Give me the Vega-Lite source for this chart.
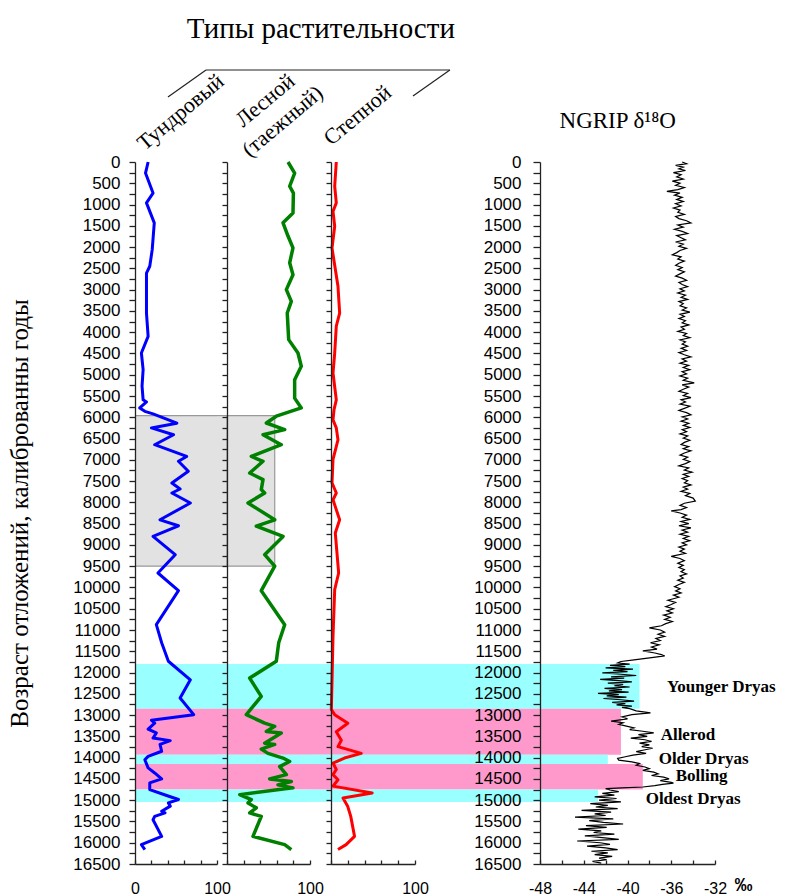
{
"$schema": "https://vega.github.io/schema/vega-lite/v6.json",
"background": "white",
"autosize": {"type": "pad"},
"padding": {"left": 7, "top": 14, "right": 0, "bottom": 0},
"bounds": "flush",
"spacing": 0,
"config": {
  "view": {"stroke": null},
  "axis": {"grid": false, "domainColor": "#222", "tickColor": "#222", "labelColor": "#000", "labelFont": "Liberation Sans", "labelOverlap": false, "labelFlush": false, "labelBound": false, "domainWidth": 1.3, "tickWidth": 1.3, "titleColor": "#000"},
  "text": {"font": "Liberation Serif", "color": "#000"}
},
"datasets": {
  "bands": [
    {"from": 11800, "to": 12850, "kind": "cold", "ng": -38.9},
    {"from": 12850, "to": 13930, "kind": "warm", "ng": -40.6},
    {"from": 13930, "to": 14150, "kind": "cold", "ng": -41.8},
    {"from": 14150, "to": 14750, "kind": "warm", "ng": -38.6},
    {"from": 14750, "to": 15040, "kind": "cold", "ng": -42.7}
  ],
  "zone": [{"from": 5960, "to": 9500}],
  "tundra": [
    {"age":0,"v":16},{"age":260,"v":12.8},{"age":730,"v":22},{"age":960,"v":14},{"age":1430,"v":23.5},{"age":2060,"v":21},{"age":2450,"v":18},{"age":2610,"v":14},{"age":3550,"v":14},{"age":4100,"v":16},{"age":4490,"v":7.8},{"age":4880,"v":9.9},{"age":5270,"v":8.6},{"age":5590,"v":9.9},{"age":5640,"v":14},{"age":5780,"v":5.8},{"age":5860,"v":12},{"age":5920,"v":22},{"age":6140,"v":51},{"age":6250,"v":20},{"age":6410,"v":47},{"age":6645,"v":24},{"age":6920,"v":63},{"age":7035,"v":53},{"age":7270,"v":65},{"age":7545,"v":45},{"age":7686,"v":55},{"age":7780,"v":45},{"age":8015,"v":67.5},{"age":8410,"v":30.5},{"age":8550,"v":53},{"age":8800,"v":22},{"age":9230,"v":49},{"age":9660,"v":28},{"age":10075,"v":53},{"age":10875,"v":26},{"age":11300,"v":32.5},{"age":11735,"v":40.7},{"age":12170,"v":67.5},{"age":12600,"v":55},{"age":12990,"v":71.6},{"age":13120,"v":20},{"age":13190,"v":24},{"age":13330,"v":16},{"age":13420,"v":26},{"age":13540,"v":22},{"age":13600,"v":43},{"age":13690,"v":30.5},{"age":13850,"v":32.5},{"age":13970,"v":16},{"age":14050,"v":12},{"age":14240,"v":16},{"age":14360,"v":24},{"age":14500,"v":32.5},{"age":14595,"v":18},{"age":14750,"v":18},{"age":14890,"v":38.6},{"age":14985,"v":53},{"age":15065,"v":40.7},{"age":15140,"v":43},{"age":15260,"v":32.5},{"age":15300,"v":36.6},{"age":15380,"v":24},{"age":15460,"v":22},{"age":15850,"v":32.5},{"age":16045,"v":7.8},{"age":16160,"v":12}
  ],
  "forest": [
    {"age":0,"v":73.5},{"age":260,"v":81.5},{"age":570,"v":75.5},{"age":730,"v":80},{"age":1200,"v":79.5},{"age":1430,"v":67.5},{"age":1740,"v":73.5},{"age":2020,"v":79.5},{"age":2370,"v":75.5},{"age":2650,"v":79.5},{"age":3000,"v":71.5},{"age":3275,"v":77.5},{"age":3550,"v":72.6},{"age":4175,"v":74.3},{"age":4490,"v":85.5},{"age":4800,"v":89.5},{"age":5120,"v":81.5},{"age":5550,"v":81.5},{"age":5780,"v":89.5},{"age":5975,"v":59.4},{"age":6135,"v":47.4},{"age":6290,"v":69.5},{"age":6410,"v":43.4},{"age":6645,"v":65.4},{"age":6920,"v":29.3},{"age":7035,"v":43.4},{"age":7310,"v":27.3},{"age":7465,"v":43.4},{"age":7700,"v":41.3},{"age":7780,"v":45.4},{"age":8015,"v":25.3},{"age":8410,"v":57.5},{"age":8560,"v":35.3},{"age":8800,"v":67.5},{"age":9230,"v":45.4},{"age":9500,"v":57.5},{"age":10075,"v":41.3},{"age":10875,"v":69.5},{"age":11300,"v":62.3},{"age":11735,"v":59.4},{"age":12130,"v":27.3},{"age":12560,"v":41.3},{"age":12990,"v":23.3},{"age":13190,"v":45.4},{"age":13265,"v":57.5},{"age":13385,"v":47.4},{"age":13420,"v":65.4},{"age":13660,"v":45.4},{"age":13690,"v":57.5},{"age":13800,"v":41.3},{"age":13900,"v":49.4},{"age":14010,"v":67.5},{"age":14090,"v":75.5},{"age":14210,"v":63.5},{"age":14400,"v":71.5},{"age":14500,"v":51.4},{"age":14560,"v":77.5},{"age":14640,"v":61.4},{"age":14710,"v":79.5},{"age":14870,"v":15.3},{"age":14985,"v":29.3},{"age":15065,"v":25.3},{"age":15180,"v":35.3},{"age":15300,"v":27.3},{"age":15380,"v":41.3},{"age":15850,"v":31.3},{"age":16045,"v":69.5},{"age":16160,"v":77.5}
  ],
  "steppe": [
    {"age":0,"v":6.3},{"age":570,"v":4.4},{"age":960,"v":6.3},{"age":1160,"v":2.4},{"age":1510,"v":4.4},{"age":2020,"v":1.2},{"age":2920,"v":8.3},{"age":3550,"v":10.3},{"age":3860,"v":6.3},{"age":4490,"v":4.4},{"age":4960,"v":2.4},{"age":5590,"v":6.3},{"age":5820,"v":3.6},{"age":6060,"v":2.4},{"age":6250,"v":6.3},{"age":6530,"v":8.3},{"age":6990,"v":2.4},{"age":7540,"v":1.2},{"age":7780,"v":6.3},{"age":7940,"v":2.4},{"age":8410,"v":10.3},{"age":8720,"v":5.1},{"age":9660,"v":9.1},{"age":10050,"v":4.4},{"age":11150,"v":2.4},{"age":12870,"v":0.4},{"age":12990,"v":4.4},{"age":13190,"v":20},{"age":13390,"v":6.3},{"age":13590,"v":12.3},{"age":13740,"v":8.3},{"age":13900,"v":36},{"age":14010,"v":16},{"age":14130,"v":2.4},{"age":14280,"v":6.3},{"age":14400,"v":2.4},{"age":14520,"v":8.3},{"age":14670,"v":2.4},{"age":14830,"v":49},{"age":14950,"v":14.3},{"age":15150,"v":20},{"age":15380,"v":23.5},{"age":15850,"v":28},{"age":16045,"v":18},{"age":16160,"v":8.3}
  ],
  "ngrip": [
    {"a":0,"d":-35.0},{"a":40,"d":-34.6},{"a":80,"d":-35.6},{"a":120,"d":-34.9},{"a":160,"d":-35.3},{"a":200,"d":-34.7},{"a":250,"d":-35.8},{"a":300,"d":-35.1},{"a":350,"d":-35.5},{"a":400,"d":-34.9},{"a":450,"d":-35.9},{"a":500,"d":-35.2},{"a":550,"d":-35.6},{"a":600,"d":-34.8},{"a":650,"d":-35.4},{"a":690,"d":-36.4},{"a":730,"d":-35.2},{"a":780,"d":-35.7},{"a":830,"d":-35.0},{"a":880,"d":-35.5},{"a":930,"d":-34.9},{"a":980,"d":-35.6},{"a":1030,"d":-35.1},{"a":1080,"d":-35.8},{"a":1130,"d":-35.2},{"a":1180,"d":-35.4},{"a":1230,"d":-34.8},{"a":1280,"d":-35.6},{"a":1330,"d":-35.3},{"a":1380,"d":-34.6},{"a":1430,"d":-34.2},{"a":1480,"d":-35.4},{"a":1530,"d":-34.9},{"a":1580,"d":-35.7},{"a":1630,"d":-35.0},{"a":1680,"d":-34.5},{"a":1730,"d":-35.5},{"a":1780,"d":-35.1},{"a":1830,"d":-34.7},{"a":1880,"d":-35.6},{"a":1930,"d":-34.9},{"a":1980,"d":-35.3},{"a":2030,"d":-34.6},{"a":2080,"d":-35.2},{"a":2130,"d":-35.5},{"a":2180,"d":-35.9},{"a":2230,"d":-35.1},{"a":2280,"d":-35.4},{"a":2330,"d":-34.8},{"a":2380,"d":-35.3},{"a":2430,"d":-35.6},{"a":2480,"d":-35.0},{"a":2530,"d":-35.4},{"a":2580,"d":-34.8},{"a":2630,"d":-35.2},{"a":2680,"d":-35.6},{"a":2730,"d":-35.0},{"a":2780,"d":-34.6},{"a":2830,"d":-35.3},{"a":2880,"d":-35.0},{"a":2930,"d":-34.5},{"a":2980,"d":-35.2},{"a":3030,"d":-34.8},{"a":3080,"d":-35.4},{"a":3130,"d":-34.7},{"a":3180,"d":-35.1},{"a":3230,"d":-34.5},{"a":3280,"d":-35.3},{"a":3330,"d":-34.9},{"a":3380,"d":-35.2},{"a":3430,"d":-34.6},{"a":3480,"d":-35.0},{"a":3530,"d":-34.3},{"a":3580,"d":-35.2},{"a":3630,"d":-34.8},{"a":3680,"d":-35.3},{"a":3730,"d":-34.7},{"a":3780,"d":-35.0},{"a":3830,"d":-34.4},{"a":3880,"d":-35.1},{"a":3930,"d":-34.8},{"a":3980,"d":-35.4},{"a":4030,"d":-34.6},{"a":4080,"d":-34.9},{"a":4130,"d":-34.3},{"a":4180,"d":-35.2},{"a":4230,"d":-34.7},{"a":4280,"d":-35.0},{"a":4330,"d":-34.5},{"a":4380,"d":-35.1},{"a":4430,"d":-34.6},{"a":4480,"d":-35.3},{"a":4530,"d":-34.8},{"a":4580,"d":-34.2},{"a":4630,"d":-35.0},{"a":4680,"d":-34.6},{"a":4730,"d":-35.2},{"a":4780,"d":-34.4},{"a":4830,"d":-34.9},{"a":4880,"d":-34.3},{"a":4930,"d":-35.0},{"a":4980,"d":-34.6},{"a":5030,"d":-35.2},{"a":5080,"d":-34.5},{"a":5130,"d":-34.9},{"a":5190,"d":-33.9},{"a":5240,"d":-35.0},{"a":5290,"d":-34.4},{"a":5340,"d":-34.9},{"a":5390,"d":-35.3},{"a":5440,"d":-34.5},{"a":5490,"d":-34.9},{"a":5540,"d":-34.2},{"a":5590,"d":-35.1},{"a":5640,"d":-34.7},{"a":5690,"d":-35.2},{"a":5740,"d":-34.3},{"a":5790,"d":-34.8},{"a":5840,"d":-35.3},{"a":5890,"d":-34.6},{"a":5940,"d":-34.2},{"a":5990,"d":-35.0},{"a":6040,"d":-34.5},{"a":6090,"d":-35.1},{"a":6140,"d":-34.4},{"a":6190,"d":-34.9},{"a":6240,"d":-34.3},{"a":6290,"d":-35.0},{"a":6340,"d":-34.6},{"a":6390,"d":-35.2},{"a":6440,"d":-34.5},{"a":6490,"d":-34.9},{"a":6540,"d":-34.3},{"a":6590,"d":-34.8},{"a":6640,"d":-35.1},{"a":6690,"d":-34.4},{"a":6740,"d":-34.9},{"a":6790,"d":-34.2},{"a":6840,"d":-34.8},{"a":6890,"d":-35.2},{"a":6940,"d":-34.5},{"a":6990,"d":-34.9},{"a":7040,"d":-34.3},{"a":7090,"d":-34.7},{"a":7140,"d":-35.3},{"a":7190,"d":-34.4},{"a":7240,"d":-34.8},{"a":7290,"d":-34.1},{"a":7340,"d":-34.9},{"a":7390,"d":-34.4},{"a":7440,"d":-35.0},{"a":7490,"d":-34.5},{"a":7540,"d":-34.8},{"a":7590,"d":-34.2},{"a":7640,"d":-34.9},{"a":7690,"d":-34.5},{"a":7740,"d":-35.1},{"a":7790,"d":-34.3},{"a":7840,"d":-34.7},{"a":7900,"d":-34.0},{"a":7970,"d":-33.8},{"a":8020,"d":-34.8},{"a":8070,"d":-35.2},{"a":8120,"d":-34.6},{"a":8170,"d":-35.1},{"a":8200,"d":-36.0},{"a":8250,"d":-35.2},{"a":8300,"d":-34.6},{"a":8350,"d":-35.0},{"a":8400,"d":-34.3},{"a":8450,"d":-35.1},{"a":8500,"d":-34.4},{"a":8550,"d":-35.3},{"a":8600,"d":-34.2},{"a":8650,"d":-35.0},{"a":8700,"d":-34.5},{"a":8750,"d":-35.2},{"a":8800,"d":-34.4},{"a":8850,"d":-34.9},{"a":8900,"d":-34.3},{"a":8950,"d":-35.0},{"a":9000,"d":-34.6},{"a":9050,"d":-35.3},{"a":9100,"d":-34.8},{"a":9150,"d":-35.2},{"a":9200,"d":-34.7},{"a":9270,"d":-36.0},{"a":9320,"d":-35.2},{"a":9370,"d":-34.8},{"a":9430,"d":-35.4},{"a":9480,"d":-34.9},{"a":9530,"d":-35.3},{"a":9580,"d":-34.8},{"a":9630,"d":-35.1},{"a":9680,"d":-34.6},{"a":9730,"d":-35.2},{"a":9780,"d":-34.9},{"a":9830,"d":-35.4},{"a":9880,"d":-34.8},{"a":9930,"d":-35.3},{"a":9980,"d":-35.7},{"a":10030,"d":-35.2},{"a":10080,"d":-35.6},{"a":10130,"d":-35.1},{"a":10180,"d":-35.8},{"a":10230,"d":-35.3},{"a":10300,"d":-36.3},{"a":10350,"d":-35.6},{"a":10400,"d":-36.0},{"a":10450,"d":-36.5},{"a":10500,"d":-35.8},{"a":10550,"d":-36.4},{"a":10600,"d":-35.9},{"a":10650,"d":-36.7},{"a":10700,"d":-36.1},{"a":10750,"d":-36.6},{"a":10800,"d":-35.9},{"a":10850,"d":-36.5},{"a":10900,"d":-36.9},{"a":10950,"d":-38.0},{"a":11000,"d":-37.0},{"a":11050,"d":-36.6},{"a":11100,"d":-37.2},{"a":11150,"d":-36.6},{"a":11200,"d":-37.4},{"a":11250,"d":-37.0},{"a":11300,"d":-37.9},{"a":11350,"d":-37.1},{"a":11400,"d":-37.8},{"a":11450,"d":-37.3},{"a":11490,"d":-38.6},{"a":11540,"d":-37.5},{"a":11580,"d":-36.9},{"a":11610,"d":-36.6},{"a":11650,"d":-37.8},{"a":11700,"d":-39.4},{"a":11740,"d":-40.6},{"a":11775,"d":-40.9},
    {"a":11800,"d":-39.8},{"a":11830,"d":-41.6},{"a":11860,"d":-40.2},{"a":11890,"d":-42.0},{"a":11920,"d":-39.5},{"a":11950,"d":-41.3},{"a":11980,"d":-40.0},{"a":12010,"d":-42.3},{"a":12040,"d":-40.6},{"a":12070,"d":-39.2},{"a":12100,"d":-41.5},{"a":12130,"d":-40.3},{"a":12160,"d":-42.5},{"a":12190,"d":-40.8},{"a":12220,"d":-39.6},{"a":12250,"d":-41.8},{"a":12280,"d":-40.4},{"a":12310,"d":-41.2},{"a":12340,"d":-39.8},{"a":12370,"d":-42.1},{"a":12400,"d":-40.5},{"a":12430,"d":-41.7},{"a":12460,"d":-39.9},{"a":12490,"d":-42.7},{"a":12520,"d":-40.8},{"a":12550,"d":-41.9},{"a":12580,"d":-40.1},{"a":12610,"d":-42.2},{"a":12640,"d":-40.6},{"a":12670,"d":-39.4},{"a":12700,"d":-41.4},{"a":12730,"d":-40.2},{"a":12760,"d":-41.0},{"a":12790,"d":-39.6},{"a":12820,"d":-40.5},{"a":12850,"d":-39.8},{"a":12900,"d":-39.2},{"a":12950,"d":-37.9},{"a":12990,"d":-39.6},{"a":13040,"d":-40.5},{"a":13090,"d":-40.0},{"a":13140,"d":-41.5},{"a":13180,"d":-40.4},{"a":13220,"d":-40.8},{"a":13260,"d":-40.1},{"a":13300,"d":-39.4},{"a":13340,"d":-39.8},{"a":13380,"d":-38.6},{"a":13420,"d":-37.6},{"a":13460,"d":-39.0},{"a":13500,"d":-38.2},{"a":13540,"d":-39.7},{"a":13580,"d":-38.4},{"a":13620,"d":-37.8},{"a":13660,"d":-38.9},{"a":13700,"d":-38.0},{"a":13740,"d":-38.7},{"a":13780,"d":-37.7},{"a":13820,"d":-38.5},{"a":13860,"d":-39.2},{"a":13900,"d":-38.3},{"a":13940,"d":-39.5},{"a":13980,"d":-40.2},{"a":14020,"d":-40.9},{"a":14060,"d":-40.8},{"a":14100,"d":-39.6},{"a":14140,"d":-38.9},{"a":14180,"d":-39.2},{"a":14220,"d":-38.4},{"a":14260,"d":-38.0},{"a":14300,"d":-38.6},{"a":14340,"d":-37.6},{"a":14380,"d":-37.2},{"a":14420,"d":-37.8},{"a":14460,"d":-36.7},{"a":14500,"d":-36.2},{"a":14540,"d":-37.0},{"a":14580,"d":-36.0},{"a":14600,"d":-35.8},{"a":14630,"d":-36.8},{"a":14660,"d":-37.5},{"a":14690,"d":-38.6},{"a":14710,"d":-40.5},{"a":14730,"d":-42.0},{"a":14760,"d":-41.6},
    {"a":14800,"d":-40.8},{"a":14840,"d":-42.3},{"a":14880,"d":-41.2},{"a":14920,"d":-43.0},{"a":14960,"d":-41.0},{"a":15000,"d":-42.6},{"a":15040,"d":-40.6},{"a":15080,"d":-43.4},{"a":15120,"d":-41.8},{"a":15160,"d":-42.9},{"a":15200,"d":-40.9},{"a":15240,"d":-44.2},{"a":15280,"d":-41.5},{"a":15320,"d":-43.0},{"a":15360,"d":-42.0},{"a":15400,"d":-44.8},{"a":15440,"d":-41.3},{"a":15480,"d":-43.5},{"a":15520,"d":-42.2},{"a":15560,"d":-40.4},{"a":15600,"d":-43.8},{"a":15640,"d":-41.9},{"a":15680,"d":-44.5},{"a":15720,"d":-42.4},{"a":15760,"d":-43.1},{"a":15800,"d":-41.2},{"a":15840,"d":-43.9},{"a":15880,"d":-42.3},{"a":15920,"d":-40.8},{"a":15960,"d":-44.6},{"a":16000,"d":-42.5},{"a":16040,"d":-41.6},{"a":16080,"d":-43.7},{"a":16120,"d":-42.0},{"a":16160,"d":-40.9},{"a":16200,"d":-43.3},{"a":16240,"d":-41.8},{"a":16280,"d":-43.0},{"a":16320,"d":-41.4},{"a":16360,"d":-42.6},{"a":16400,"d":-41.9},{"a":16440,"d":-43.2},{"a":16480,"d":-42.4}
  ]
},
"hconcat": [
  {
    "width": 82, "height": 702,
    "layer": [
      {"data": {"name": "tundra"}, "mark": {"type": "line", "color": "#0000ff", "strokeWidth": 3, "strokeJoin": "round", "opacity": 0},
       "encoding": {
         "x": {"field": "v", "type": "quantitative", "scale": {"domain": [0, 100], "nice": false, "zero": false},
               "axis": {"title": null, "values": [0, 20, 40, 60, 80, 100], "tickCount": 100, "labelExpr": "datum.value == 0 || datum.value == 100 ? '' + datum.value : ''", "labelOverlap": false, "labelFlush": false, "labelBound": false, "labelAlign": "center", "tickSize": -4, "labelPadding": 20, "labelFontSize": 16}},
         "y": {"field": "age", "type": "quantitative", "scale": {"domain": [0, 16500], "reverse": true, "nice": false, "zero": false},
               "axis": {"title": "Возраст отложений, калиброванны годы", "titleFont": "Liberation Serif", "titleFontSize": 25, "titleFontWeight": "normal", "titlePadding": 40,
                        "values": [0,250,500,750,1000,1250,1500,1750,2000,2250,2500,2750,3000,3250,3500,3750,4000,4250,4500,4750,5000,5250,5500,5750,6000,6250,6500,6750,7000,7250,7500,7750,8000,8250,8500,8750,9000,9250,9500,9750,10000,10250,10500,10750,11000,11250,11500,11750,12000,12250,12500,12750,13000,13250,13500,13750,14000,14250,14500,14750,15000,15250,15500,15750,16000,16250,16500],
                        "tickCount": 100, "labelExpr": "datum.value % 500 == 0 ? '' + datum.value : ''", "labelOverlap": false, "labelFlush": false, "labelBound": false, "labelBaseline": "middle", "labelFontSize": 17, "tickSize": 6, "labelPadding": 9, "zindex": 1}},
         "order": {"field": "age", "type": "quantitative"}}},
      {"data": {"name": "bands"}, "mark": {"type": "rect"},
       "encoding": {
         "y": {"field": "from", "type": "quantitative"},
         "y2": {"field": "to"},
         "color": {"field": "kind", "type": "nominal", "scale": {"domain": ["cold", "warm"], "range": ["#99ffff", "#ff99cc"]}, "legend": null}}},
      {"data": {"name": "zone"}, "mark": {"type": "rect", "fill": "#e2e2e2"},
       "encoding": {"y": {"field": "from", "type": "quantitative"}, "y2": {"field": "to"}}},
      {"data": {"name": "zone"}, "mark": {"type": "rule", "color": "#999999", "strokeWidth": 1.2},
       "encoding": {"y": {"field": "from", "type": "quantitative"}}},
      {"data": {"name": "zone"}, "mark": {"type": "rule", "color": "#999999", "strokeWidth": 1.2},
       "encoding": {"y": {"field": "to", "type": "quantitative"}}},
      {"data": {"name": "tundra"}, "mark": {"type": "line", "color": "#0000ff", "strokeWidth": 3, "strokeJoin": "round"},
       "encoding": {
         "x": {"field": "v", "type": "quantitative"},
         "y": {"field": "age", "type": "quantitative"},
         "order": {"field": "age", "type": "quantitative"}}},
      {"data": {"values": [{}]}, "mark": {"type": "text", "text": "Тундровый", "angle": -40, "align": "left", "baseline": "alphabetic", "font": "Liberation Serif", "fontSize": 22},
       "encoding": {"x": {"datum": 11.8, "type": "quantitative"}, "y": {"datum": -251, "type": "quantitative"}}},
      {"data": {"values": [{}]}, "mark": {"type": "rule", "color": "#222", "strokeWidth": 1.2},
       "encoding": {"x": {"datum": 86.6, "type": "quantitative"}, "x2": {"datum": 384, "type": "quantitative"}, "y": {"datum": -2162, "type": "quantitative"}, "y2": {"datum": -2162, "type": "quantitative"}}},
      {"data": {"values": [{}]}, "mark": {"type": "rule", "color": "#222", "strokeWidth": 1.2},
       "encoding": {"x": {"datum": 40.2, "type": "quantitative"}, "x2": {"datum": 86.6, "type": "quantitative"}, "y": {"datum": -1528, "type": "quantitative"}, "y2": {"datum": -2162, "type": "quantitative"}}},
      {"data": {"values": [{}]}, "mark": {"type": "rule", "color": "#222", "strokeWidth": 1.2},
       "encoding": {"x": {"datum": 339, "type": "quantitative"}, "x2": {"datum": 384, "type": "quantitative"}, "y": {"datum": -1551, "type": "quantitative"}, "y2": {"datum": -2162, "type": "quantitative"}}}
    ]
  },
  {
    "width": 10, "height": 702,
    "layer": [
      {"data": {"name": "bands"}, "mark": {"type": "rect"},
       "encoding": {
         "y": {"field": "from", "type": "quantitative", "scale": {"domain": [0, 16500], "reverse": true, "nice": false, "zero": false}, "axis": null},
         "y2": {"field": "to"},
         "color": {"field": "kind", "type": "nominal", "scale": {"domain": ["cold", "warm"], "range": ["#99ffff", "#ff99cc"]}, "legend": null}}},
      {"data": {"name": "zone"}, "mark": {"type": "rect", "fill": "#e2e2e2"},
       "encoding": {"y": {"field": "from", "type": "quantitative", "axis": null}, "y2": {"field": "to"}}},
      {"data": {"name": "zone"}, "mark": {"type": "rule", "color": "#999999", "strokeWidth": 1.2},
       "encoding": {"y": {"field": "from", "type": "quantitative", "axis": null}}},
      {"data": {"name": "zone"}, "mark": {"type": "rule", "color": "#999999", "strokeWidth": 1.2},
       "encoding": {"y": {"field": "to", "type": "quantitative", "axis": null}}}
    ]
  },
  {
    "width": 83, "height": 702,
    "layer": [
      {"data": {"name": "forest"}, "mark": {"type": "line", "color": "#008000", "strokeWidth": 3.5, "opacity": 0},
       "encoding": {
         "x": {"field": "v", "type": "quantitative", "scale": {"domain": [0, 100], "nice": false, "zero": false},
               "axis": {"title": null, "values": [0, 20, 40, 60, 80, 100], "tickCount": 100, "labelExpr": "datum.value == 100 ? '100' : ''", "labelOverlap": false, "labelFlush": false, "labelBound": false, "labelAlign": "center", "tickSize": -4, "labelPadding": 20, "labelFontSize": 16}},
         "y": {"field": "age", "type": "quantitative", "scale": {"domain": [0, 16500], "reverse": true, "nice": false, "zero": false},
               "axis": {"title": null, "labels": false, "zindex": 1, "tickCount": 100,
                        "values": [0,250,500,750,1000,1250,1500,1750,2000,2250,2500,2750,3000,3250,3500,3750,4000,4250,4500,4750,5000,5250,5500,5750,6000,6250,6500,6750,7000,7250,7500,7750,8000,8250,8500,8750,9000,9250,9500,9750,10000,10250,10500,10750,11000,11250,11500,11750,12000,12250,12500,12750,13000,13250,13500,13750,14000,14250,14500,14750,15000,15250,15500,15750,16000,16250,16500],
                        "tickSize": 5}},
         "order": {"field": "age", "type": "quantitative"}}},
      {"data": {"name": "bands"}, "mark": {"type": "rect"},
       "encoding": {
         "y": {"field": "from", "type": "quantitative"},
         "y2": {"field": "to"},
         "color": {"field": "kind", "type": "nominal", "scale": {"domain": ["cold", "warm"], "range": ["#99ffff", "#ff99cc"]}, "legend": null}}},
      {"data": {"name": "zone"}, "mark": {"type": "rect", "fill": "#e2e2e2", "stroke": "#999999", "strokeWidth": 1.2},
       "encoding": {"y": {"field": "from", "type": "quantitative"}, "y2": {"field": "to"}, "x": {"datum": 57.5, "type": "quantitative"}}},
      {"data": {"name": "forest"}, "mark": {"type": "line", "color": "#008000", "strokeWidth": 3.5, "strokeJoin": "round"},
       "encoding": {
         "x": {"field": "v", "type": "quantitative"},
         "y": {"field": "age", "type": "quantitative"},
         "order": {"field": "age", "type": "quantitative"}}},
      {"data": {"values": [{}]}, "mark": {"type": "text", "text": "Лесной", "angle": -40, "align": "left", "baseline": "alphabetic", "font": "Liberation Serif", "fontSize": 22},
       "encoding": {"x": {"datum": 19.3, "type": "quantitative"}, "y": {"datum": -799, "type": "quantitative"}}},
      {"data": {"values": [{}]}, "mark": {"type": "text", "text": "(таежный)", "angle": -40, "align": "left", "baseline": "alphabetic", "font": "Liberation Serif", "fontSize": 22},
       "encoding": {"x": {"datum": 27.3, "type": "quantitative"}, "y": {"datum": -94, "type": "quantitative"}}},
      {"data": {"values": [{}]}, "mark": {"type": "text", "text": "Типы  растительности", "align": "center", "baseline": "alphabetic", "font": "Liberation Serif", "fontSize": 29},
       "encoding": {"x": {"datum": 113, "type": "quantitative"}, "y": {"datum": -2915, "type": "quantitative"}}}
    ]
  },
  {
    "width": 21, "height": 702,
    "data": {"name": "bands"}, "mark": {"type": "rect"},
    "encoding": {
      "y": {"field": "from", "type": "quantitative", "scale": {"domain": [0, 16500], "reverse": true, "nice": false, "zero": false}, "axis": null},
      "y2": {"field": "to"},
      "color": {"field": "kind", "type": "nominal", "scale": {"domain": ["cold", "warm"], "range": ["#99ffff", "#ff99cc"]}, "legend": null}}
  },
  {
    "width": 84, "height": 702,
    "layer": [
      {"data": {"name": "steppe"}, "mark": {"type": "line", "color": "#ff0000", "strokeWidth": 3, "opacity": 0},
       "encoding": {
         "x": {"field": "v", "type": "quantitative", "scale": {"domain": [0, 100], "nice": false, "zero": false},
               "axis": {"title": null, "values": [0, 20, 40, 60, 80, 100], "tickCount": 100, "labelExpr": "datum.value == 100 ? '100' : ''", "labelOverlap": false, "labelFlush": false, "labelBound": false, "labelAlign": "center", "tickSize": -4, "labelPadding": 20, "labelFontSize": 16}},
         "y": {"field": "age", "type": "quantitative", "scale": {"domain": [0, 16500], "reverse": true, "nice": false, "zero": false},
               "axis": {"title": null, "labels": false, "zindex": 1, "tickCount": 100,
                        "values": [0,250,500,750,1000,1250,1500,1750,2000,2250,2500,2750,3000,3250,3500,3750,4000,4250,4500,4750,5000,5250,5500,5750,6000,6250,6500,6750,7000,7250,7500,7750,8000,8250,8500,8750,9000,9250,9500,9750,10000,10250,10500,10750,11000,11250,11500,11750,12000,12250,12500,12750,13000,13250,13500,13750,14000,14250,14500,14750,15000,15250,15500,15750,16000,16250,16500],
                        "tickSize": 5}},
         "order": {"field": "age", "type": "quantitative"}}},
      {"data": {"name": "bands"}, "mark": {"type": "rect"},
       "encoding": {
         "y": {"field": "from", "type": "quantitative"},
         "y2": {"field": "to"},
         "color": {"field": "kind", "type": "nominal", "scale": {"domain": ["cold", "warm"], "range": ["#99ffff", "#ff99cc"]}, "legend": null}}},
      {"data": {"name": "steppe"}, "mark": {"type": "line", "color": "#ff0000", "strokeWidth": 3, "strokeJoin": "round"},
       "encoding": {
         "x": {"field": "v", "type": "quantitative"},
         "y": {"field": "age", "type": "quantitative"},
         "order": {"field": "age", "type": "quantitative"}}},
      {"data": {"values": [{}]}, "mark": {"type": "text", "text": "Степной", "angle": -40, "align": "left", "baseline": "alphabetic", "font": "Liberation Serif", "fontSize": 22},
       "encoding": {"x": {"datum": 0.4, "type": "quantitative"}, "y": {"datum": -369, "type": "quantitative"}}}
    ]
  },
  {
    "width": 125, "height": 702,
    "data": {"name": "bands"}, "mark": {"type": "rect"},
    "encoding": {
      "y": {"field": "from", "type": "quantitative", "scale": {"domain": [0, 16500], "reverse": true, "nice": false, "zero": false}, "axis": null},
      "y2": {"field": "to"},
      "color": {"field": "kind", "type": "nominal", "scale": {"domain": ["cold", "warm"], "range": ["#99ffff", "#ff99cc"]}, "legend": null}}
  },
  {
    "width": 175, "height": 702,
    "layer": [
      {"data": {"name": "ngrip"}, "mark": {"type": "line", "color": "#000000", "strokeWidth": 1, "opacity": 0},
       "encoding": {
         "x": {"field": "d", "type": "quantitative", "scale": {"domain": [-48, -32], "nice": false, "zero": false},
               "axis": {"title": null, "values": [-48, -46, -44, -42, -40, -38, -36, -34, -32], "tickCount": 100, "labelExpr": "datum.value % 4 == 0 ? '-' + (-datum.value) : ''", "labelOverlap": false, "labelFlush": false, "labelBound": false, "labelAlign": "center", "tickSize": -4, "labelPadding": 20, "labelFontSize": 16, "zindex": 1}},
         "y": {"field": "a", "type": "quantitative", "scale": {"domain": [0, 16500], "reverse": true, "nice": false, "zero": false},
               "axis": {"title": null, "zindex": 1, "tickCount": 100,
                        "values": [0,250,500,750,1000,1250,1500,1750,2000,2250,2500,2750,3000,3250,3500,3750,4000,4250,4500,4750,5000,5250,5500,5750,6000,6250,6500,6750,7000,7250,7500,7750,8000,8250,8500,8750,9000,9250,9500,9750,10000,10250,10500,10750,11000,11250,11500,11750,12000,12250,12500,12750,13000,13250,13500,13750,14000,14250,14500,14750,15000,15250,15500,15750,16000,16250,16500],
                        "labelExpr": "datum.value % 500 == 0 ? '' + datum.value : ''", "labelOverlap": false, "labelFlush": false, "labelBound": false, "labelBaseline": "middle", "labelFontSize": 17, "tickSize": 7, "labelPadding": 12}},
         "order": {"field": "a", "type": "quantitative"}}},
      {"data": {"name": "bands"}, "mark": {"type": "rect"},
       "encoding": {
         "y": {"field": "from", "type": "quantitative"},
         "y2": {"field": "to"},
         "x": {"field": "ng", "type": "quantitative"},
         "color": {"field": "kind", "type": "nominal", "scale": {"domain": ["cold", "warm"], "range": ["#99ffff", "#ff99cc"]}, "legend": null}}},
      {"data": {"name": "ngrip"}, "mark": {"type": "line", "color": "#000000", "strokeWidth": 1.2},
       "encoding": {
         "x": {"field": "d", "type": "quantitative"},
         "y": {"field": "a", "type": "quantitative"},
         "order": {"field": "a", "type": "quantitative"}}},
      {"data": {"values": [{}]}, "mark": {"type": "text", "text": "NGRIP  δ¹⁸O", "align": "center", "baseline": "alphabetic", "font": "Liberation Serif", "fontSize": 23},
       "encoding": {"x": {"datum": -40.9, "type": "quantitative"}, "y": {"datum": -800, "type": "quantitative"}}},
      {"data": {"values": [{}]}, "mark": {"type": "text", "text": "‰", "align": "center", "baseline": "alphabetic", "font": "Liberation Sans", "fontSize": 18, "fontWeight": "bold"},
       "encoding": {"x": {"datum": -29.4, "type": "quantitative"}, "y": {"datum": 17135, "type": "quantitative"}}},
      {"data": {"values": [{}]}, "mark": {"type": "text", "text": "Younger Dryas", "align": "left", "baseline": "alphabetic", "font": "Liberation Serif", "fontSize": 17, "fontWeight": "bold"},
       "encoding": {"x": {"datum": -36.4, "type": "quantitative"}, "y": {"datum": 12465, "type": "quantitative"}}},
      {"data": {"values": [{}]}, "mark": {"type": "text", "text": "Allerod", "align": "left", "baseline": "alphabetic", "font": "Liberation Serif", "fontSize": 17, "fontWeight": "bold"},
       "encoding": {"x": {"datum": -36.97, "type": "quantitative"}, "y": {"datum": 13578, "type": "quantitative"}}},
      {"data": {"values": [{}]}, "mark": {"type": "text", "text": "Older Dryas", "align": "left", "baseline": "alphabetic", "font": "Liberation Serif", "fontSize": 17, "fontWeight": "bold"},
       "encoding": {"x": {"datum": -37.15, "type": "quantitative"}, "y": {"datum": 14142, "type": "quantitative"}}},
      {"data": {"values": [{}]}, "mark": {"type": "text", "text": "Bolling", "align": "left", "baseline": "alphabetic", "font": "Liberation Serif", "fontSize": 17, "fontWeight": "bold"},
       "encoding": {"x": {"datum": -35.6, "type": "quantitative"}, "y": {"datum": 14557, "type": "quantitative"}}},
      {"data": {"values": [{}]}, "mark": {"type": "text", "text": "Oldest Dryas", "align": "left", "baseline": "alphabetic", "font": "Liberation Serif", "fontSize": 17, "fontWeight": "bold"},
       "encoding": {"x": {"datum": -38.34, "type": "quantitative"}, "y": {"datum": 15082, "type": "quantitative"}}}
    ]
  }
]
}
